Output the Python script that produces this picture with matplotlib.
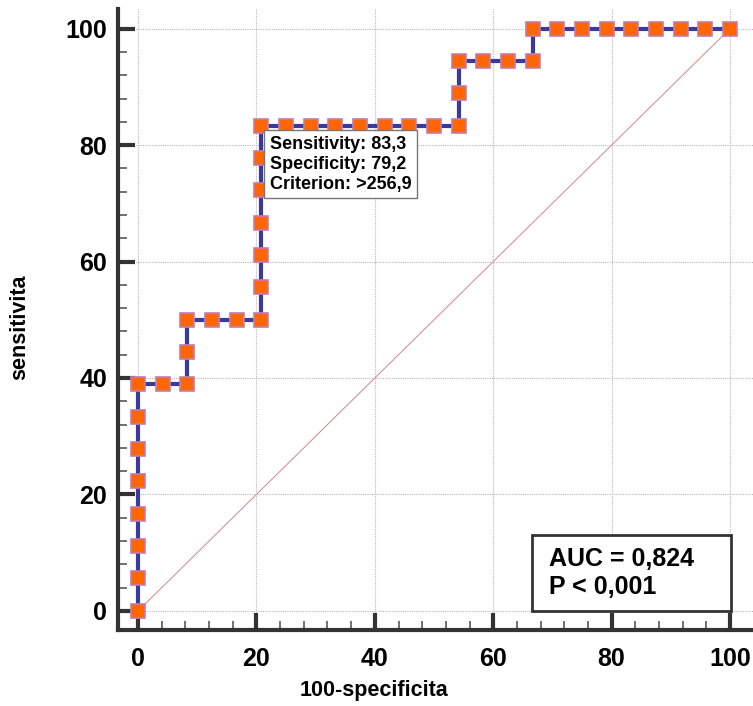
import matplotlib.pyplot as plt
from matplotlib.patches import Rectangle

# ROC curve points (100-specificity, sensitivity)
fpr = [0, 0, 0, 0, 0, 0, 0, 0,
       4.17, 8.33, 8.33, 8.33,
       12.5, 16.67, 20.83,
       20.83, 20.83, 20.83, 20.83, 20.83, 20.83,
       25.0, 29.17, 33.33, 37.5, 41.67, 45.83, 50.0, 54.17,
       54.17, 54.17,
       58.33, 62.5, 66.67,
       66.67,
       70.83, 75.0, 79.17, 83.33, 87.5, 91.67, 95.83, 100.0]
tpr = [0, 5.56, 11.11, 16.67, 22.22, 27.78, 33.33, 38.89,
       38.89, 38.89, 44.44, 50.0,
       50.0, 50.0, 50.0,
       55.56, 61.11, 66.67, 72.22, 77.78, 83.33,
       83.33, 83.33, 83.33, 83.33, 83.33, 83.33, 83.33, 83.33,
       88.89, 94.44,
       94.44, 94.44, 94.44,
       100.0,
       100.0, 100.0, 100.0, 100.0, 100.0, 100.0, 100.0, 100.0]

cut_x, cut_y = 20.83, 83.33
cut_text = "Sensitivity: 83,3\nSpecificity: 79,2\nCriterion: >256,9"
auc_text = "AUC = 0,824\nP < 0,001"

plt.rcParams['font.family'] = ['Liberation Sans', 'DejaVu Sans']
plt.rcParams['font.weight'] = 'bold'

fig = plt.figure(figsize=(7.53, 7.06), dpi=100)
ax = fig.add_axes([0.1567, 0.1076, 0.8433, 0.8797])

ax.plot([0, 100], [0, 100], color='#cc8888', lw=0.7, zorder=2)
ax.plot(fpr, tpr, color='#3a3a9c', lw=3, zorder=3)
ax.plot(fpr, tpr, ls='none', marker='s', ms=9.5, mfc='#ff6600',
        mec='#c47cae', mew=1.2, zorder=4)

ax.set_xlim(-3.4, 103.9)
ax.set_ylim(-3.3, 103.4)
ax.set_xticks(range(0, 101, 20))
ax.set_yticks(range(0, 101, 20))
ax.set_xticks(range(0, 101, 4), minor=True)
ax.set_yticks(range(0, 101, 4), minor=True)
ax.grid(True, which='major', color='#b8b8b8', ls=(0, (1, 1)), lw=0.8)

for s in ['top', 'right']:
    ax.spines[s].set_visible(False)
for s in ['left', 'bottom']:
    ax.spines[s].set_linewidth(3)
    ax.spines[s].set_color('#333333')

ax.tick_params(which='major', direction='in', length=12, width=3,
               color='#333333', labelsize=18)
ax.tick_params(axis='x', which='major', pad=12)
ax.tick_params(axis='y', which='major', pad=8)
ax.tick_params(which='minor', direction='in', length=6.5, width=1.3,
               color='#666666')

ax.set_xlabel('100-specificita', fontsize=15.5, fontweight='bold')
ax.set_ylabel('sensitivita', fontsize=15.5, fontweight='bold')
ax.xaxis.set_label_coords(0.403, -0.080)
ax.yaxis.set_label_coords(-0.138, 0.488)

ax.annotate(cut_text, xy=(cut_x, cut_y), xytext=(6, -7),
            textcoords='offset points', ha='left', va='top',
            fontsize=13, fontweight='bold', linespacing=1.25,
            bbox=dict(boxstyle='square,pad=0.3', fc='white',
                      ec='#777777', lw=1), zorder=5)

# AUC box sitting on the lower right corner of the plot area
ax.add_patch(Rectangle((0.652, 0.0306), 0.3134, 0.1224, transform=ax.transAxes,
                       fc='white', ec='#333333', lw=2, zorder=5))
ax.text(0.679, 0.0918, auc_text, transform=ax.transAxes, ha='left',
        va='center', fontsize=18, fontweight='bold', linespacing=1.2,
        zorder=6)

plt.savefig('out.png', dpi=100)
